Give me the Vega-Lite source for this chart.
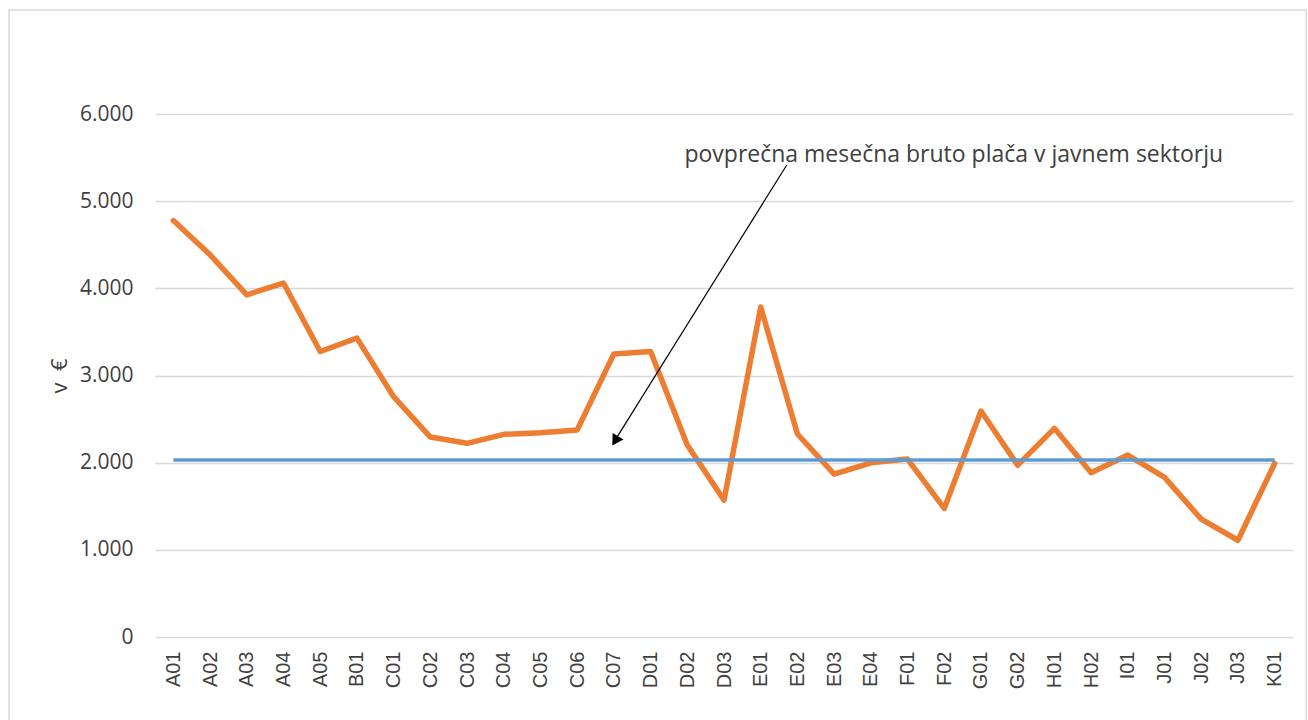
{
  "$schema": "https://vega.github.io/schema/vega-lite/v6.json",
  "width": 1138,
  "height": 523,
  "autosize": "none",
  "padding": {"left": 155, "top": 114, "right": 15, "bottom": 83},
  "background": "white",
  "config": {"view": {"stroke": null}},
  "datasets": {
    "place": [
      {"kod": "A01", "placa": 4777, "javni": 2030},
      {"kod": "A02", "placa": 4385, "javni": 2030},
      {"kod": "A03", "placa": 3926, "javni": 2030},
      {"kod": "A04", "placa": 4061, "javni": 2030},
      {"kod": "A05", "placa": 3275, "javni": 2030},
      {"kod": "B01", "placa": 3429, "javni": 2030},
      {"kod": "C01", "placa": 2757, "javni": 2030},
      {"kod": "C02", "placa": 2294, "javni": 2030},
      {"kod": "C03", "placa": 2222, "javni": 2030},
      {"kod": "C04", "placa": 2325, "javni": 2030},
      {"kod": "C05", "placa": 2344, "javni": 2030},
      {"kod": "C06", "placa": 2375, "javni": 2030},
      {"kod": "C07", "placa": 3248, "javni": 2030},
      {"kod": "D01", "placa": 3275, "javni": 2030},
      {"kod": "D02", "placa": 2202, "javni": 2030},
      {"kod": "D03", "placa": 1570, "javni": 2030},
      {"kod": "E01", "placa": 3785, "javni": 2030},
      {"kod": "E02", "placa": 2329, "javni": 2030},
      {"kod": "E03", "placa": 1869, "javni": 2030},
      {"kod": "E04", "placa": 1999, "javni": 2030},
      {"kod": "F01", "placa": 2041, "javni": 2030},
      {"kod": "F02", "placa": 1475, "javni": 2030},
      {"kod": "G01", "placa": 2593, "javni": 2030},
      {"kod": "G02", "placa": 1972, "javni": 2030},
      {"kod": "H01", "placa": 2394, "javni": 2030},
      {"kod": "H02", "placa": 1884, "javni": 2030},
      {"kod": "I01", "placa": 2087, "javni": 2030},
      {"kod": "J01", "placa": 1831, "javni": 2030},
      {"kod": "J02", "placa": 1352, "javni": 2030},
      {"kod": "J03", "placa": 1110, "javni": 2030},
      {"kod": "K01", "placa": 1992, "javni": 2030}
    ],
    "okvir": [{"x1": -4.478, "x2": 30.86, "y1": 7193, "y2": -1067}],
    "strelica": [{"x1": 16.71, "y1": 5415, "x2": 12.03, "y2": 2255}],
    "konica": [{"x": 12.035, "y": 2250}],
    "napis": [{"x": 21.26, "y": 5529, "besedilo": "povprečna mesečna bruto plača v javnem sektorju"}]
  },
  "layer": [
    {
      "data": {"name": "place"},
      "encoding": {
        "x": {
          "field": "kod", "type": "nominal", "sort": null,
          "scale": {"type": "point", "padding": 0.5},
          "axis": {
            "title": null, "labelAngle": -90, "labelFont": "Liberation Sans", "labelFontSize": 20,
            "labelColor": "#404040", "labelPadding": 14, "ticks": false, "domain": false, "grid": false
          }
        }
      },
      "layer": [
        {
          "mark": {"type": "line", "color": "#ED7D31", "strokeWidth": 5.5, "strokeJoin": "round", "strokeCap": "round"},
          "encoding": {
            "y": {
              "field": "placa", "type": "quantitative",
              "scale": {"domain": [0, 6000], "nice": false, "zero": true},
              "axis": {
                "values": [0, 1000, 2000, 3000, 4000, 5000, 6000],
                "labelExpr": "replace(format(datum.value, ','), ',', '.')",
                "title": "v\u00a0\u00a0€", "titleFont": "Open Sans", "titleFontSize": 22, "titleFontWeight": "normal",
                "titleColor": "#404040", "titlePadding": 8,
                "labelFont": "Open Sans", "labelFontSize": 21, "labelColor": "#404040", "labelPadding": 22,
                "grid": true, "gridColor": "#D9D9D9", "gridWidth": 1.5, "domain": false, "ticks": false
              }
            }
          }
        },
        {
          "mark": {"type": "line", "color": "#5B9BD5", "strokeWidth": 3.5, "strokeCap": "butt"},
          "encoding": {
            "y": {"field": "javni", "type": "quantitative", "scale": {"domain": [0, 6000], "nice": false, "zero": true}}
          }
        }
      ]
    },
    {
      "layer": [
        {
          "data": {"name": "okvir"},
          "mark": {"type": "rect", "fill": null, "stroke": "#D9D9D9", "strokeWidth": 1.5},
          "encoding": {
            "x": {"field": "x1", "type": "quantitative", "scale": {"domain": [-0.5, 30.5], "nice": false, "zero": false}, "axis": null},
            "x2": {"field": "x2"},
            "y": {"field": "y1", "type": "quantitative", "scale": {"domain": [0, 6000], "nice": false, "zero": true}, "axis": null},
            "y2": {"field": "y2"}
          }
        },
        {
          "data": {"name": "strelica"},
          "mark": {"type": "rule", "color": "black", "strokeWidth": 1.2},
          "encoding": {
            "x": {"field": "x1", "type": "quantitative", "scale": {"domain": [-0.5, 30.5], "nice": false, "zero": false}, "axis": null},
            "x2": {"field": "x2"},
            "y": {"field": "y1", "type": "quantitative", "scale": {"domain": [0, 6000], "nice": false, "zero": true}, "axis": null},
            "y2": {"field": "y2"}
          }
        },
        {
          "data": {"name": "konica"},
          "mark": {"type": "point", "shape": "triangle-down", "filled": true, "color": "black", "size": 160, "angle": 32, "opacity": 1},
          "encoding": {
            "x": {"field": "x", "type": "quantitative", "scale": {"domain": [-0.5, 30.5], "nice": false, "zero": false}, "axis": null},
            "y": {"field": "y", "type": "quantitative", "scale": {"domain": [0, 6000], "nice": false, "zero": true}, "axis": null}
          }
        },
        {
          "data": {"name": "napis"},
          "mark": {"type": "text", "font": "Open Sans", "fontSize": 23, "color": "#404040", "align": "center", "baseline": "middle"},
          "encoding": {
            "x": {"field": "x", "type": "quantitative", "scale": {"domain": [-0.5, 30.5], "nice": false, "zero": false}, "axis": null},
            "y": {"field": "y", "type": "quantitative", "scale": {"domain": [0, 6000], "nice": false, "zero": true}, "axis": null},
            "text": {"field": "besedilo"}
          }
        }
      ]
    }
  ],
  "resolve": {"scale": {"x": "independent"}, "axis": {"x": "independent", "y": "independent"}}
}
